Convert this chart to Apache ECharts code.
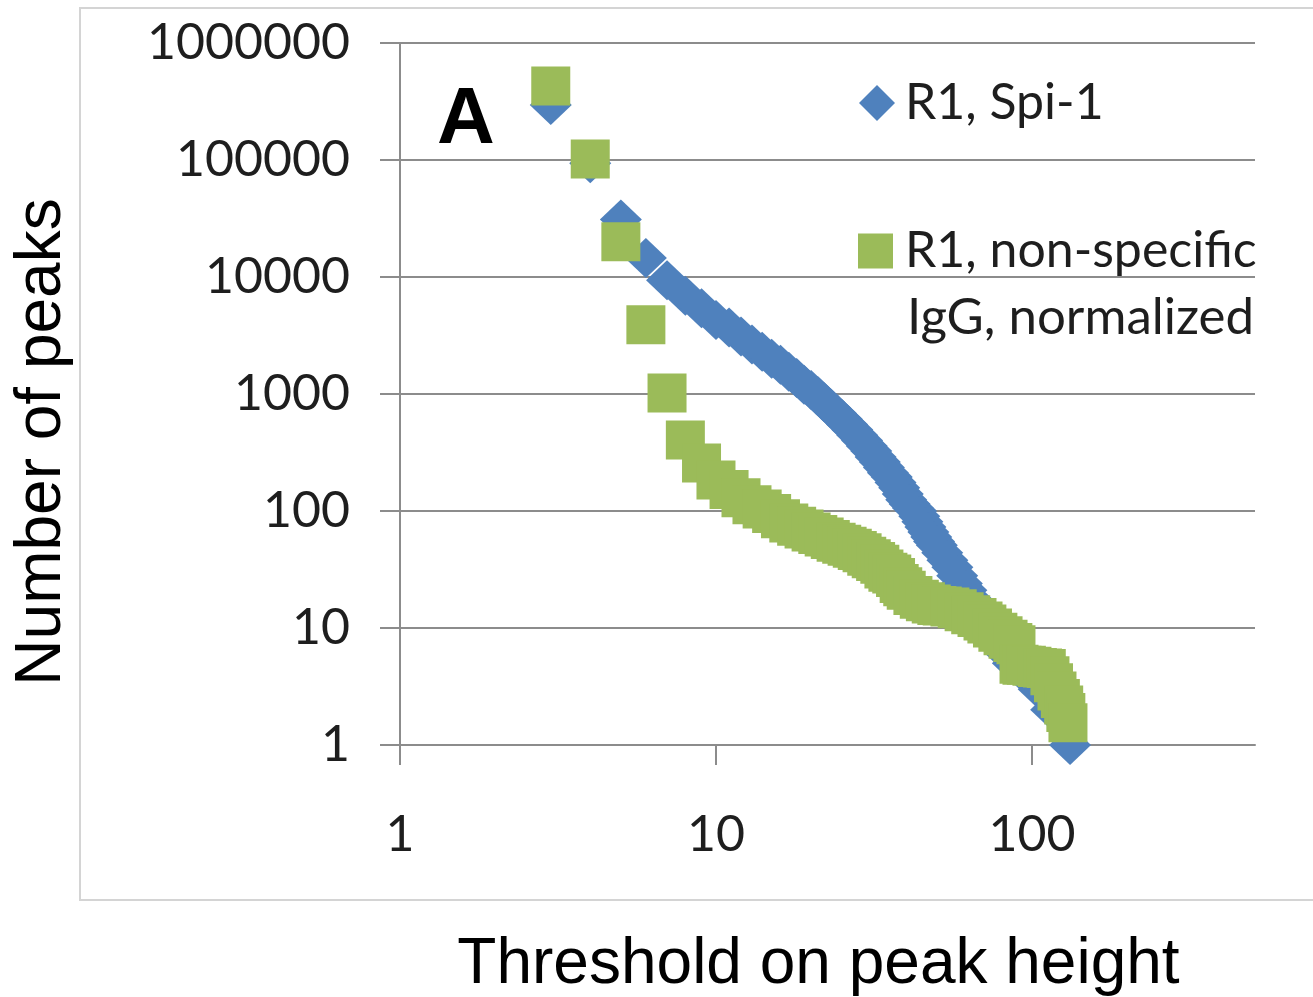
<!DOCTYPE html>
<html>
<head>
<meta charset="utf-8">
<style>html,body{margin:0;padding:0;background:#fff}#c{width:1313px;height:997px}</style>
<script src="https://cdn.jsdelivr.net/npm/echarts@6/dist/echarts.min.js"></script>
</head>
<body>
<div id="c"></div>
<script>
// Threshold on peak height (x) and number of peaks (y)
const blueT = [3,4,5,6,7,8,9,10,11,12,13,14,15,16,17,18,19,20,21,22,23,24,25,26,27,28,29,30,31,32,33,34,35,36,37,38,39,40,41,42,43,44,45,46,47,48,49,50,52,54,56,58,60,62,64,66,68,70,72,75,78,80,83,87,90,95,100,105,110,115,120,126,132];
const blueN = [295000,94000,31000,14500,9400,6900,5400,4300,3700,3100,2650,2300,2000,1780,1550,1370,1200,1080,960,850,760,680,610,550,495,445,400,360,325,290,262,235,212,195,175,158,140,125,115,106,100,90,81,73,66,60,55,51,44,38,33,28,24,21,18,16,14,12,11,9,8,7,6,5,5,4,4,3,3,2,2,2,1];
const greenT = [3,4,5,6,7,8,9,10,11,12,13,14,15,16,17,18,19,20,21,22,23,24,25,26,27,28,29,30,31,32,33,34,35,36,37,38,39,40,42,44,46,48,50,52,55,58,61,64,67,70,72,75,78,81,84,87,89,91,93,96,100,104,108,111,114,117,120,123,126,128,130];
const greenN = [430000,102000,20000,3900,1020,405,257,184,153,130,113,104,95,86,79,74,70,66,63,60,57,54,52,50,48,46,44,41,39,37,35,32,30,29,27,24,22.5,21,19,17.6,16.8,16,15.6,15.4,15.1,14.6,13.8,13,12.3,11.5,10.8,10,9.2,8.6,8,7.5,7.2,4.9,4.8,4.8,4.7,4.6,4.55,4.5,3.9,3.4,2.9,2.5,2.2,1.9,1.55];
const xTicks = [1,10,100];
const yTicks = [1,10,100,1000,10000,100000,1000000];
const blueName = 'R1, Spi-1';
const greenName = 'R1, non-specific IgG, normalized';

const chart = echarts.init(document.getElementById('c'), null, {renderer:'canvas', width:1313, height:997});
const gridCol = '#8c8c8c';
const labelFont = 'Lato';
chart.setOption({
  animation: false,
  backgroundColor: '#fff',
  grid: {left: 400, right: 58, top: 43, bottom: 252, containLabel: false, outerBoundsMode: 'none'},
  xAxis: {
    type: 'log', logBase: 10, min: 1, max: 508,
    name: 'Threshold on peak height', nameLocation: 'middle', nameGap: 220,
    nameTextStyle: {fontFamily: 'Liberation Sans', fontSize: 64, color: '#000', verticalAlign: 'middle', padding: [0, 18, 0, 0]},
    axisLine: {show: true, lineStyle: {color: gridCol, width: 2}},
    axisTick: {show: true, length: 20, lineStyle: {color: gridCol, width: 2}, customValues: xTicks},
    axisLabel: {customValues: xTicks, margin: 90, verticalAlign: 'middle', fontFamily: labelFont, fontSize: 50, color: '#1e1e1e',
      formatter: v => String(Math.round(v))},
    splitLine: {show: false}, minorTick: {show: false}, minorSplitLine: {show: false}
  },
  yAxis: {
    type: 'log', logBase: 10, min: 1, max: 1000000, splitNumber: 6,
    name: 'Number of peaks', nameLocation: 'middle', nameGap: 358,
    nameTextStyle: {fontFamily: 'Liberation Sans', fontSize: 64, color: '#000', verticalAlign: 'middle', padding: [0, 96, 0, 0]},
    axisLine: {show: true, lineStyle: {color: gridCol, width: 2}},
    axisTick: {show: true, length: 20, lineStyle: {color: gridCol, width: 2}, customValues: yTicks},
    axisLabel: {customValues: yTicks, margin: 50, fontFamily: labelFont, fontSize: 50, color: '#1e1e1e',
      formatter: v => String(Math.round(v))},
    splitLine: {show: true, lineStyle: {color: gridCol, width: 2}}
  },
  legend: [
    {data: [blueName], left: 859, top: 75, orient: 'vertical', padding: 0, itemWidth: 36, itemHeight: 36, selectedMode: false,
      textStyle: {fontFamily: labelFont, fontSize: 50, color: '#1e1e1e', lineHeight: 56, padding: [0, 0, 0, 5]}},
    {data: [greenName], left: 858, top: 223, orient: 'vertical', padding: 0, itemWidth: 35, itemHeight: 35, selectedMode: false,
      formatter: () => 'R1, non-specific',
      textStyle: {fontFamily: labelFont, fontSize: 50, color: '#1e1e1e', lineHeight: 56, padding: [0, 0, 0, 7]}}
  ],
  graphic: [
    {type: 'rect', z: -10, silent: true, shape: {x: 80, y: 8, width: 1300, height: 892},
      style: {fill: 'none', stroke: '#d4d4d4', lineWidth: 2}},
    {type: 'text', x: 466, y: 121, silent: true,
      style: {text: 'A', font: 'bold 80px "Liberation Sans"', fill: '#000', textAlign: 'center', textVerticalAlign: 'middle'}},
    {type: 'text', x: 907, y: 318, silent: true,
      style: {text: 'IgG, normalized', font: '51px Lato', fill: '#1e1e1e', textAlign: 'left', textVerticalAlign: 'middle'}}
  ],
  series: [
    {type: 'scatter', name: blueName, symbol: 'diamond', symbolSize: [42, 40], silent: true,
      itemStyle: {color: '#4F81BD', opacity: 1}, emphasis: {disabled: true},
      data: blueT.map((t, i) => [t, blueN[i]])},
    {type: 'scatter', name: greenName, symbol: 'rect', symbolSize: 39, silent: true,
      itemStyle: {color: '#9BBB59', opacity: 1}, emphasis: {disabled: true},
      data: greenT.map((t, i) => [t, greenN[i]])}
  ]
});
</script>
</body>
</html>
